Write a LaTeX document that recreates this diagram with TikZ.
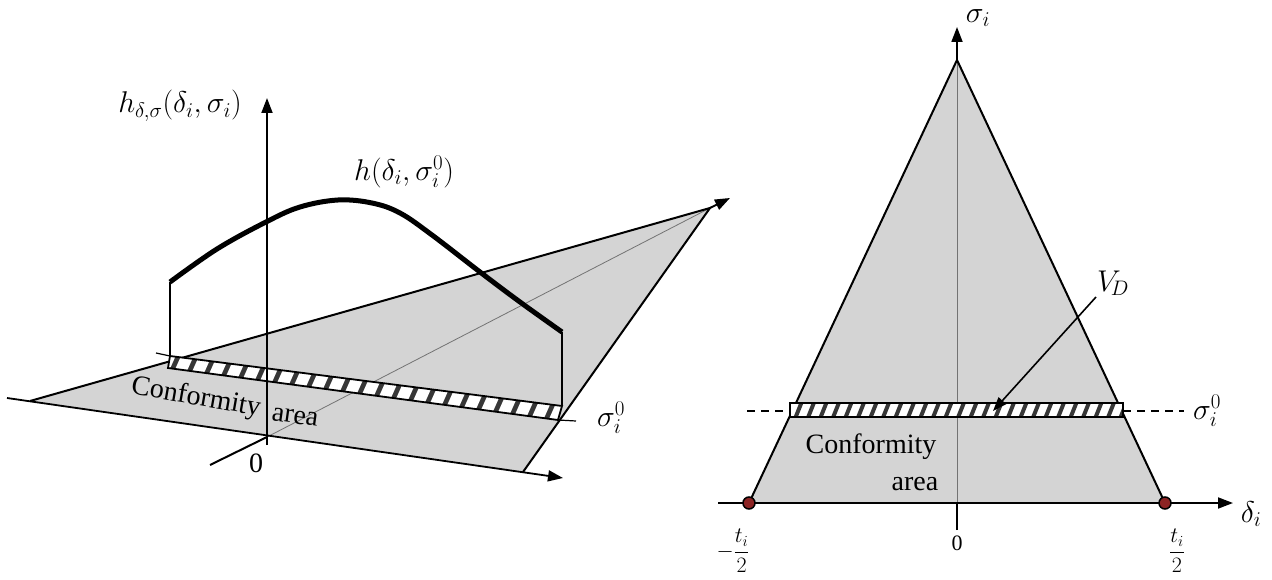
\documentclass[tikz,border=0pt]{standalone}
\usepackage{fix-cm}
\usepackage{fontspec}
\setmainfont{Liberation Serif}
\usetikzlibrary{arrows.meta}
\definecolor{planegray}{RGB}{212,212,212}
\definecolor{hatchdark}{RGB}{55,55,55}
\definecolor{dotred}{RGB}{140,35,35}
\tikzset{
  axisarrow/.style={line width=1.8pt,-{Triangle[length=15pt,width=11pt]}},
  edgeline/.style={line width=2pt},
  thinline/.style={line width=0.8pt,black!55},
  lbl/.style={font=\fontsize{30}{36}\selectfont,inner sep=0pt},
  fraclbl/.style={font=\fontsize{22}{26}\selectfont,inner sep=0pt},
  smalllbl/.style={font=\fontsize{22}{26}\selectfont,inner sep=0pt},
  txt/.style={font=\fontsize{28}{32}\selectfont,inner sep=0pt},
}
\begin{document}
\begin{tikzpicture}[x=1pt,y=-1pt]
\useasboundingbox (0,0) rectangle (1272,580);
% ================= LEFT DIAGRAM =================
\coordinate (L) at (30,401);
\coordinate (A) at (710,208);
\coordinate (R) at (523,472);
\coordinate (O) at (267,437);
\coordinate (dStart) at (7,398);
\coordinate (dEnd) at (563,478);
\coordinate (sStart) at (210,465);
\coordinate (sEnd) at (730,198);
\coordinate (hBot) at (267,445);
\coordinate (hTop) at (267,98);
\fill[planegray] (L) -- (A) -- (R) -- cycle;
\draw[thinline] (O) -- (A);
\draw[edgeline] (L) -- (A) -- (R);
\draw[axisarrow] (dStart) -- (dEnd);
\draw[edgeline] (sStart) -- (O);
\draw[axisarrow] (A) -- (sEnd);
% band
\coordinate (bTL) at (170,356);
\coordinate (bTR) at (562,406);
\coordinate (bBR) at (558,420);
\coordinate (bBL) at (168,368);
\fill[hatchdark] (bTL) -- (bTR) -- (bBR) -- (bBL) -- cycle;
\begin{scope}
  \clip (bTL) -- (bTR) -- (bBR) -- (bBL) -- cycle;
  \foreach \i in {0,...,26} {
    \draw[white,line width=11.5pt] ({132+\i*18},440) -- ++(40,-90);
  }
\end{scope}
\draw[line width=1.8pt] (bTL) -- (bTR) -- (bBR) -- (bBL) -- cycle;
\draw[line width=1.2pt] (156,353) -- (bTL);
\draw[line width=1.2pt] (bBR) -- (576,421);
% vertical axis
\draw[axisarrow] (hBot) -- (hTop);
% verticals and curve
\coordinate (c0) at (170,282);
\coordinate (c1) at (562,332);
\draw[line width=1.6pt] (c0) -- (bTL);
\draw[line width=1.6pt] (c1) -- (bTR);
\draw[line width=5pt,line join=round] plot[smooth,tension=0.6] coordinates
  {(170,282) (217,249) (266,222) (300,207) (338,200) (372,203) (400,213) (432,235) (480,272) (520,302) (562,332)};
% labels
\node[lbl] (hlabel) at (180,106) {$h_{\delta,\sigma}(\delta_i,\sigma_i)$};
\node[lbl] (hcurve) at (404,172) {$h(\delta_i,\sigma_i^0)$};
\node[lbl] (sig0L) at (611,418) {$\sigma_i^0$};
\node[txt] (zeroL) at (256,463) {0};
\node[txt,rotate=-10] (confL) at (196,398) {Conformity};
\node[txt,rotate=-8] (areaL) at (295,417) {area};
% ================= RIGHT DIAGRAM =================
\coordinate (ap) at (957,60);
\coordinate (bl) at (749,503);
\coordinate (br) at (1165,503);
\coordinate (mid) at (957,503);
\coordinate (xStart) at (718,503);
\coordinate (xEnd) at (1233,503);
\coordinate (yBot) at (957,530);
\coordinate (yTop) at (957,27);
\fill[planegray] (bl) -- (ap) -- (br) -- cycle;
\draw[thinline] (mid) -- (ap);
\draw[edgeline] (bl) -- (ap) -- (br);
\draw[axisarrow] (xStart) -- (xEnd);
\draw[edgeline] (yBot) -- (mid);
\draw[axisarrow] (ap) -- (yTop);
% band
\fill[white] (790,403) rectangle (1123,417);
\begin{scope}
  \clip (790,403) rectangle (1123,417);
  \foreach \i in {0,...,27} {
    \draw[hatchdark,line width=4pt] ({780+\i*12.5},425) -- ++(12,-30);
  }
\end{scope}
\draw[line width=1.8pt] (790,403) rectangle (1123,417);
\coordinate (dl0) at (747,411);
\coordinate (dl1) at (790,411);
\coordinate (dr0) at (1123,411);
\coordinate (dr1) at (1184,411);
\draw[line width=1.2pt,dash pattern=on 8pt off 6pt] (dl0) -- (dl1);
\draw[line width=1.2pt,dash pattern=on 8pt off 6pt] (dr0) -- (dr1);
% V_D arrow
\node[lbl] (VD) at (1113,283) {$V_{\!D}$};
\coordinate (vdTip) at (993,411);
\draw[line width=1.6pt,-{Triangle[length=14pt,width=10pt]}] (1096,297) -- (vdTip);
% end markers
\draw[line width=1.5pt,fill=dotred] (bl) circle (6);
\draw[line width=1.5pt,fill=dotred] (br) circle (6);
% labels
\node[lbl] (sigR) at (978,18) {$\sigma_i$};
\node[lbl] (delR) at (1251,514) {$\delta_i$};
\node[lbl] (sig0R) at (1207,411) {$\sigma_i^0$};
\node[smalllbl] (zeroR) at (957,543) {0};
\node[fraclbl] (tl) at (733,551) {$\displaystyle-\frac{t_i}{2}$};
\node[fraclbl] (tr) at (1177,551) {$\displaystyle\frac{t_i}{2}$};
\node[txt] (confR) at (871,447) {Conformity};
\node[txt] (areaR) at (915,484) {area};
\end{tikzpicture}
\end{document}
